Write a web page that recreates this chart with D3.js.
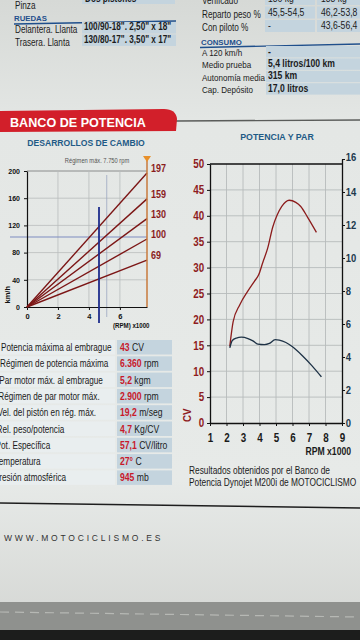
<!DOCTYPE html>
<html><head><meta charset="utf-8">
<script src="https://cdn.jsdelivr.net/npm/d3@7"></script>
<style>
body{margin:0;background:#e2e5e2;overflow:hidden}
svg{display:block}
</style></head>
<body><svg id="c" width="360" height="640"></svg>
<script>
// ---------- data ----------
const wheelLabels = ["Delantera. Llanta", "Trasera. Llanta"];
const wheelValues = ['100/90-18". 2,50" x 18"', '130/80-17". 3,50" x 17"'];
const weightLabels = ["Verificado", "Reparto peso %", "Con piloto %"];
const weightSolo = ["186 kg", "45,5-54,5", "-"];
const weightPillion = ["188 kg", "46,2-53,8", "43,6-56,4"];
const consumoLabels = ["A 120 km/h", "Medio prueba", "Autonomía media", "Cap. Depósito"];
const consumoValues = ["-", "5,4 litros/100 km", "315 km", "17,0 litros"];

const gearSpeeds = [197, 159, 130, 100, 69];      // km/h at max rpm
const maxRpm = 7.75;                              // x1000
const markRpm = 4.65;                             // blue vertical marker
const markSpeed = 100;                            // blue horizontal marker
const speedTicks = [0, 40, 80, 120, 160, 200];
const gearRpmTicks = [0, 2, 4, 6];

const rpmTicks = [1, 2, 3, 4, 5, 6, 7, 8, 9];
const cvTicks = [0, 5, 10, 15, 20, 25, 30, 35, 40, 45, 50];
const kgmTicks = [0, 2, 4, 6, 8, 10, 12, 14, 16];
const powerRpm = [2.2, 2.4, 2.8, 3.3, 3.7, 3.95, 4.2, 4.5, 4.8, 5.05, 5.35, 5.8, 6.2, 6.5, 6.9, 7.45];
const powerCV  = [14.8, 19.5, 22.8, 25.5, 27.4, 28.6, 31.0, 33.8, 37.8, 40.0, 41.8, 43.0, 42.6, 41.8, 39.8, 36.8];
const torqueRpm = [2.2, 2.35, 2.6, 2.9, 3.3, 3.6, 3.9, 4.3, 4.6, 4.95, 5.2, 5.6, 6.0, 6.6, 7.2, 7.75];
const torqueKgm = [4.55, 5.0, 5.15, 5.2, 5.12, 4.98, 4.78, 4.75, 4.82, 5.05, 5.02, 4.88, 4.62, 4.08, 3.45, 2.8];

const statLabels = ["Potencia máxima al embrague", "Régimen de potencia máxima", "Par motor máx. al embrague",
  "Régimen de par motor máx.", "Vel. del pistón en rég. máx.", "Rel. peso/potencia", "Pot. Específica",
  "Temperatura", "Presión atmosférica"];
const statNumbers = ["43", "6.360", "5,2", "2.900", "19,2", "4,7", "57,1", "27°", "945"];
const statUnits = [" CV", " rpm", " kgm", " rpm", " m/seg", " Kg/CV", " CV/litro", " C", " mb"];

// ---------- helpers ----------
const FONT = "Liberation Sans, Arial, Helvetica, sans-serif";
function T(parent, x, y, str, o = {}) {
  return parent.append("text")
    .attr("transform", `translate(${x},${y}) scale(${o.sx ?? 0.82},1)`)
    .attr("font-family", FONT).attr("font-size", o.size ?? 10)
    .attr("font-weight", o.bold ? "bold" : "normal")
    .attr("fill", o.fill ?? "#1b1b1b").attr("text-anchor", o.anchor ?? "start")
    .text(str);
}

// ---------- drawing ----------
const svg = d3.select("#c");
const defs = svg.append("defs");
const g0 = defs.append("linearGradient").attr("id", "bg").attr("x1", 0).attr("x2", 0).attr("y1", 0).attr("y2", 1);
g0.append("stop").attr("offset", "0").attr("stop-color", "#d6d9d6");
g0.append("stop").attr("offset", "0.2").attr("stop-color", "#e4e7e5");
g0.append("stop").attr("offset", "0.75").attr("stop-color", "#e7eae8");
g0.append("stop").attr("offset", "1").attr("stop-color", "#d3d5d2");
svg.append("rect").attr("width", 360).attr("height", 640).attr("fill", "url(#bg)");

const BLUE_HEAD = "#1f4f8c";
const CELL = "#c4d4de";

// top-left table
const tl = svg.append("g");
T(tl, 15, 9, "Pinza");
tl.append("rect").attr("x", 82).attr("y", -6).attr("width", 93).attr("height", 10).attr("fill", CELL);
T(tl, 85, 2, "Dos pistones", { bold: true });
tl.append("text").attr("x", 14).attr("y", 21).attr("font-family", FONT).attr("font-size", 7.8).attr("font-weight", "bold").attr("fill", BLUE_HEAD).text("RUEDAS");
tl.append("line").attr("x1", 14).attr("x2", 176).attr("y1", 24).attr("y2", 21).attr("stroke", BLUE_HEAD).attr("stroke-width", 1.3);
wheelLabels.forEach((l, i) => {
  tl.append("rect").attr("x", 82).attr("y", 22 + i * 12.5).attr("width", 94).attr("height", 11.5).attr("fill", CELL);
  T(tl, 15, 33 + i * 12.5, l);
  T(tl, 84, 30 + i * 12.5, wheelValues[i], { bold: true });
});

// top-right table
const tr = svg.append("g");
weightLabels.forEach((l, i) => {
  const yb = 4 + i * 13.5;
  tr.append("rect").attr("x", 265).attr("y", yb - 11).attr("width", 50).attr("height", 12).attr("fill", CELL);
  tr.append("rect").attr("x", 317).attr("y", yb - 11).attr("width", 45).attr("height", 12).attr("fill", CELL);
  T(tr, 202, yb, l);
  T(tr, 268, yb - 2, weightSolo[i], { size: 10.5 });
  T(tr, 321, yb - 2, weightPillion[i], { size: 10.5 });
});
tr.append("text").attr("x", 201).attr("y", 45).attr("font-family", FONT).attr("font-size", 7.8).attr("font-weight", "bold").attr("fill", BLUE_HEAD).text("CONSUMO");
tr.append("line").attr("x1", 200).attr("x2", 360).attr("y1", 47.5).attr("y2", 44).attr("stroke", BLUE_HEAD).attr("stroke-width", 1.3);
consumoLabels.forEach((l, i) => {
  const yb = 56 + i * 12.4;
  tr.append("rect").attr("x", 266).attr("y", yb - 10).attr("width", 94).attr("height", 11.4).attr("fill", CELL);
  T(tr, 202, yb, l, { size: 9.8 });
  T(tr, 268, yb - 1.5, consumoValues[i], { bold: true, size: 10.5 });
});

// banner
svg.append("line").attr("x1", 176).attr("x2", 360).attr("y1", 121).attr("y2", 120).attr("stroke", "#5a5c5a").attr("stroke-width", 1.4);
svg.append("path").attr("d", "M0,111 L164,109 Q176,109 177,119 L176,131 L0,132 Z").attr("fill", "#d21f2a");
svg.append("text").attr("x", 10).attr("y", 127).attr("font-family", FONT).attr("font-size", 12.6).attr("font-weight", "bold").attr("fill", "#fff").text("BANCO DE POTENCIA");

// ---------- gear chart ----------
const gx = d3.scaleLinear().domain([0, maxRpm]).range([27, 147]);
const gy = d3.scaleLinear().domain([0, 200]).range([307, 171]);
const gc = svg.append("g");
gc.append("text").attr("x", 86).attr("y", 146).attr("text-anchor", "middle").attr("font-family", FONT).attr("font-size", 8.6).attr("font-weight", "bold").attr("fill", "#1e5a86").text("DESARROLLOS DE CAMBIO");
T(gc, 97, 163, "Régimen máx. 7.750 rpm", { size: 7, fill: "#555", anchor: "middle" });
// grid
gc.append("g").selectAll("line").data(speedTicks.slice(1)).join("line")
  .attr("x1", gx(0)).attr("x2", gx(maxRpm)).attr("y1", d => gy(d)).attr("y2", d => gy(d))
  .attr("stroke", d => d === 200 ? "#8a8c8c" : "#b9bdbd").attr("stroke-width", d => d === 200 ? 1 : 0.8);
gc.append("g").selectAll("line").data(gearRpmTicks.slice(1)).join("line")
  .attr("x1", d => gx(d)).attr("x2", d => gx(d)).attr("y1", gy(200)).attr("y2", gy(0))
  .attr("stroke", "#b9bdbd").attr("stroke-width", 0.8);
gc.append("line").attr("x1", gx(5.15)).attr("x2", gx(5.15)).attr("y1", gy(200) + 4).attr("y2", gy(0) + 10)
  .attr("stroke", "#9aa6c0").attr("stroke-width", 0.8);
// markers
gc.append("line").attr("x1", 10).attr("x2", gx(maxRpm)).attr("y1", gy(markSpeed) - 2).attr("y2", gy(markSpeed) - 2)
  .attr("stroke", "#7f8bc0").attr("stroke-width", 1.2);
// axes
const gax = gc.append("g").attr("transform", `translate(0,${gy(0)})`)
  .call(d3.axisBottom(gx).tickValues(gearRpmTicks).tickSize(3).tickSizeOuter(0));
const gay = gc.append("g").attr("transform", `translate(${gx(0)},0)`)
  .call(d3.axisLeft(gy).tickValues(speedTicks).tickSize(3).tickSizeOuter(0));
[gax, gay].forEach(a => {
  a.select(".domain").attr("stroke", "#111").attr("stroke-width", 1.2);
  a.selectAll(".tick line").attr("stroke", "#111");
  a.selectAll("text").attr("font-family", FONT).attr("font-size", 7.5).attr("font-weight", "bold").attr("fill", "#111");
});
gax.selectAll("text").attr("dy", "0.8em");
gay.selectAll("text").attr("dx", "-1").attr("font-size", 7);
gc.append("text").attr("transform", `translate(10,${gy(18)}) rotate(-90)`).attr("text-anchor", "middle")
  .attr("font-family", FONT).attr("font-size", 7.5).attr("font-weight", "bold").attr("fill", "#111").text("km/h");
T(gc, 113, 328, "(RPM) x1000", { size: 7.5, bold: true, fill: "#111" });
// gear lines
gc.append("g").selectAll("line").data(gearSpeeds).join("line")
  .attr("x1", gx(0)).attr("y1", gy(0)).attr("x2", gx(maxRpm)).attr("y2", d => gy(d))
  .attr("stroke", "#7c1616").attr("stroke-width", 1.4);
// max rpm line and marker
gc.append("line").attr("x1", gx(maxRpm)).attr("x2", gx(maxRpm)).attr("y1", 160).attr("y2", gy(0))
  .attr("stroke", "#c77a3c").attr("stroke-width", 1.5);
gc.append("path").attr("d", `M${gx(maxRpm) - 4},156 L${gx(maxRpm) + 4},156 L${gx(maxRpm)},162 Z`).attr("fill", "#e8902a");
gc.append("line").attr("x1", gx(markRpm)).attr("x2", gx(markRpm)).attr("y1", 207).attr("y2", gy(0) + 16)
  .attr("stroke", "#1d2d8c").attr("stroke-width", 1.8);
gearSpeeds.forEach(d => T(gc, 151, gy(d) - 1, d, { size: 11, bold: true, fill: "#8a1c1c" }));

// ---------- stats table ----------
const st = svg.append("g");
statLabels.forEach((l, i) => {
  const yb = 351 + i * 16.3;
  st.append("rect").attr("x", 0).attr("y", yb - 11).attr("width", 115).attr("height", 14.5).attr("fill", "#e9eeef");
  st.append("rect").attr("x", 117).attr("y", yb - 11).attr("width", 55).attr("height", 14.5).attr("fill", CELL);
  T(st, 1 - i * 0.9, yb, l, { size: 10 });
  const t = T(st, 120, yb, "", { size: 10.5 });
  t.append("tspan").attr("font-weight", "bold").attr("fill", "#c8182a").text(statNumbers[i]);
  t.append("tspan").text(statUnits[i]);
});

// ---------- power / torque chart ----------
const px = d3.scaleLinear().domain([1, 9]).range([210, 342]);
const pyCV = d3.scaleLinear().domain([0, 50]).range([423, 164]);
const pyKg = d3.scaleLinear().domain([0, 16]).range([423, 159]);
const pc = svg.append("g");
pc.append("text").attr("x", 277).attr("y", 140).attr("text-anchor", "middle").attr("font-family", FONT).attr("font-size", 8.8).attr("font-weight", "bold").attr("fill", "#1e5a86").text("POTENCIA Y PAR");
pc.append("g").selectAll("line").data(cvTicks.slice(1, -1)).join("line")
  .attr("x1", px(1)).attr("x2", px(9)).attr("y1", d => pyCV(d)).attr("y2", d => pyCV(d))
  .attr("stroke", "#b7bbbb").attr("stroke-width", 0.9);
pc.append("g").selectAll("line").data(rpmTicks.slice(1, -1)).join("line")
  .attr("x1", d => px(d)).attr("x2", d => px(d)).attr("y1", pyCV(50)).attr("y2", pyCV(0))
  .attr("stroke", "#b7bbbb").attr("stroke-width", 0.9);
pc.append("line").attr("x1", px(1)).attr("x2", px(9)).attr("y1", pyCV(50)).attr("y2", pyCV(50)).attr("stroke", "#111").attr("stroke-width", 1.3);
const pax = pc.append("g").attr("transform", `translate(0,${pyCV(0)})`)
  .call(d3.axisBottom(px).tickValues(rpmTicks).tickSize(3).tickSizeOuter(0));
const payL = pc.append("g").attr("transform", `translate(${px(1)},0)`)
  .call(d3.axisLeft(pyCV).tickValues(cvTicks).tickSize(3).tickSizeOuter(0));
const payR = pc.append("g").attr("transform", `translate(${px(9)},0)`)
  .call(d3.axisRight(pyKg).tickValues(kgmTicks).tickSize(3).tickSizeOuter(0));
[pax, payL, payR].forEach(a => {
  a.select(".domain").attr("stroke", "#111").attr("stroke-width", 1.3);
  a.selectAll(".tick line").attr("stroke", "#111");
  a.selectAll("text").attr("font-family", FONT).attr("font-size", 12).attr("font-weight", "bold").attr("transform", "scale(0.82,1)");
});
pax.selectAll("text").attr("fill", "#1a1a1a").attr("dy", "1.05em");
payL.selectAll("text").attr("fill", "#8e1c22").attr("dx", "-1");
payR.selectAll("text").attr("fill", "#20384c").attr("dx", "-1.5").attr("font-size", 11.5);
payR.selectAll(".tick").filter(d => d === 16).select("text").attr("dy", "0.1em");
pc.append("text").attr("transform", `translate(191,${pyCV(1.5)}) rotate(-90) scale(0.85,1)`).attr("text-anchor", "middle")
  .attr("font-family", FONT).attr("font-size", 11.5).attr("font-weight", "bold").attr("fill", "#8e1c22").text("CV");
T(pc, 351, 455, "RPM x1000", { size: 10.5, bold: true, anchor: "end", fill: "#1a1a1a" });

const powerLine = d3.line().x(d => px(d[0])).y(d => pyCV(d[1])).curve(d3.curveMonotoneX);
const torqueLine = d3.line().x(d => px(d[0])).y(d => pyKg(d[1])).curve(d3.curveMonotoneX);
pc.append("path").attr("d", powerLine(d3.zip(powerRpm, powerCV))).attr("fill", "none").attr("stroke", "#8c1c1c").attr("stroke-width", 1.3);
pc.append("path").attr("d", torqueLine(d3.zip(torqueRpm, torqueKgm))).attr("fill", "none").attr("stroke", "#1e3246").attr("stroke-width", 1.3);

T(pc, 189, 474, "Resultados obtenidos por el Banco de", { size: 11, sx: 0.76 });
T(pc, 189, 486, "Potencia Dynojet M200i de MOTOCICLISMO", { size: 11, sx: 0.76 });

// ---------- footer ----------
svg.append("line").attr("x1", 0).attr("x2", 360).attr("y1", 503).attr("y2", 508).attr("stroke", "#1e1e1e").attr("stroke-width", 1.4);
svg.append("text").attr("x", 4).attr("y", 541).attr("font-family", FONT).attr("font-size", 8.5)
  .attr("letter-spacing", "2.8").attr("fill", "#333").text("WWW.MOTOCICLISMO.ES");
svg.append("rect").attr("x", 0).attr("y", 602).attr("width", 360).attr("height", 28).attr("fill", "#8f918e");
svg.append("line").attr("x1", 0).attr("x2", 360).attr("y1", 612).attr("y2", 617).attr("stroke", "#b6b8b4").attr("stroke-width", 1.2).attr("stroke-dasharray", "9,6");
svg.append("rect").attr("x", 0).attr("y", 630).attr("width", 360).attr("height", 10).attr("fill", "#1c1d1c");
</script></body></html>
